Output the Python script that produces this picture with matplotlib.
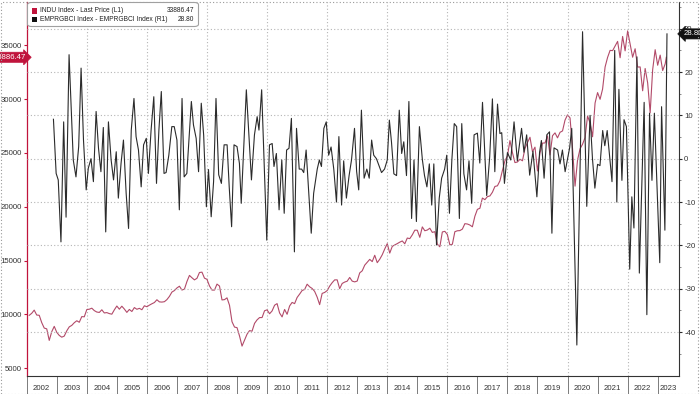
import matplotlib
matplotlib.use("Agg")
import matplotlib.pyplot as plt
import matplotlib.transforms as mtransforms
from matplotlib.patches import FancyBboxPatch, Rectangle

plt.rcParams['font.family'] = ['Liberation Sans Narrow', 'Liberation Sans', 'DejaVu Sans']

# ==================== DATA ====================

# INDU (Dow Jones) month-end closes, Jan 2002 -> Apr 2023 (last = latest price)
djia_start_year = 2002
djia = [
    9920, 10106, 10404, 9946, 9925, 9243, 8737, 8664, 7592, 8397, 8896, 8342,
    8054, 7891, 7992, 8480, 8850, 8985, 9234, 9416, 9275, 9801, 9782, 10454,
    10488, 10584, 10358, 10226, 10188, 10435, 10140, 10174, 10080, 10027, 10428, 10783,
    10490, 10766, 10504, 10193, 10467, 10275, 10641, 10482, 10569, 10440, 10806, 10718,
    10865, 10993, 11109, 11367, 11168, 11150, 11186, 11381, 11679, 12081, 12222, 12463,
    12622, 12269, 12354, 13063, 13628, 13409, 13212, 13358, 13896, 13930, 13372, 13265,
    12650, 12266, 12263, 12820, 12638, 11350, 11378, 11544, 10851, 9325, 8829, 8776,
    8001, 7063, 7609, 8168, 8500, 8447, 9172, 9496, 9712, 9713, 10345, 10428,
    10067, 10325, 10857, 11009, 10137, 9774, 10466, 10015, 10788, 11118, 11006, 11578,
    11892, 12226, 12320, 12811, 12570, 12414, 12143, 11614, 10913, 11955, 12046, 12218,
    12633, 12952, 13212, 13214, 12393, 12880, 13009, 13091, 13437, 13096, 13026, 13104,
    13861, 14054, 14579, 14840, 15116, 14910, 15500, 14810, 15130, 15546, 16086, 16577,
    15699, 16322, 16458, 16581, 16717, 16827, 16563, 17098, 17043, 17391, 17828, 17823,
    17165, 18133, 17776, 17841, 18011, 17620, 17690, 16528, 16285, 17664, 17720, 17425,
    16466, 16517, 17685, 17774, 17787, 17930, 18432, 18401, 18308, 18142, 19124, 19763,
    19864, 20812, 20663, 20941, 21009, 21350, 21891, 21948, 22405, 23377, 24272, 24719,
    26149, 25029, 24103, 24163, 24416, 24271, 25415, 25965, 26458, 25116, 25538, 23327,
    24999, 25916, 25929, 26593, 24815, 26600, 26864, 26403, 26917, 27046, 28051, 28538,
    28256, 25409, 21917, 24346, 25383, 25813, 26428, 28430, 27782, 26502, 29639, 30606,
    29983, 30932, 32982, 33875, 34529, 34503, 34935, 35361, 33844, 35820, 34484, 36338,
    35132, 33893, 34678, 32977, 32990, 30775, 32845, 31510, 28726, 32733, 34590, 33147,
    34086, 32657, 33274, 33886.47,
]

# EMPRGBCI (decimal year, value)
emp_dates = [
    2002.89, 2002.98, 2003.05, 2003.14, 2003.23, 2003.31, 2003.41, 2003.55, 2003.64, 2003.73,
    2003.81, 2003.89, 2003.98, 2004.05, 2004.14, 2004.22, 2004.31, 2004.39, 2004.47, 2004.55,
    2004.63, 2004.72, 2004.81, 2004.89, 2004.98, 2005.05, 2005.14, 2005.22, 2005.31, 2005.39,
    2005.48, 2005.57, 2005.64, 2005.72, 2005.81, 2005.89, 2005.98, 2006.05, 2006.14, 2006.23,
    2006.32, 2006.40, 2006.48, 2006.57, 2006.64, 2006.73, 2006.83, 2006.91, 2007.00, 2007.08,
    2007.17, 2007.24, 2007.33, 2007.48, 2007.55, 2007.64, 2007.72, 2007.81, 2007.89, 2007.98,
    2008.05, 2008.14, 2008.22, 2008.30, 2008.39, 2008.48, 2008.57, 2008.67, 2008.74, 2008.82,
    2008.90, 2009.00, 2009.08, 2009.14, 2009.31, 2009.48, 2009.58, 2009.67, 2009.73, 2009.82,
    2009.99, 2010.08, 2010.17, 2010.23, 2010.31, 2010.40, 2010.49, 2010.57, 2010.65, 2010.73,
    2010.81, 2010.91, 2010.98, 2011.07, 2011.15, 2011.22, 2011.30, 2011.39, 2011.47, 2011.55,
    2011.67, 2011.74, 2011.81, 2011.89, 2011.97, 2012.05, 2012.13, 2012.22, 2012.31, 2012.39,
    2012.48, 2012.55, 2012.64, 2012.73, 2012.81, 2012.91, 2012.98, 2013.05, 2013.14, 2013.23,
    2013.32, 2013.40, 2013.48, 2013.55, 2013.64, 2013.72, 2013.81, 2013.91, 2014.00, 2014.07,
    2014.14, 2014.22, 2014.31, 2014.40, 2014.48, 2014.55, 2014.64, 2014.72, 2014.81, 2014.89,
    2014.97, 2015.07, 2015.17, 2015.24, 2015.32, 2015.40, 2015.48, 2015.55, 2015.64, 2015.73,
    2015.81, 2015.91, 2015.98, 2016.07, 2016.15, 2016.23, 2016.31, 2016.40, 2016.48, 2016.55,
    2016.64, 2016.72, 2016.81, 2016.89, 2017.00, 2017.08, 2017.17, 2017.31, 2017.41, 2017.50,
    2017.58, 2017.67, 2017.75, 2017.81, 2017.90, 2018.00, 2018.11, 2018.22, 2018.33, 2018.47,
    2018.55, 2018.64, 2018.74, 2018.85, 2018.98, 2019.07, 2019.13, 2019.22, 2019.31, 2019.40,
    2019.48, 2019.55, 2019.67, 2019.75, 2019.83, 2019.92, 2020.07, 2020.14, 2020.31, 2020.50,
    2020.64, 2020.75, 2020.83, 2020.91, 2021.00, 2021.08, 2021.17, 2021.24, 2021.32, 2021.48,
    2021.57, 2021.64, 2021.71, 2021.81, 2021.88, 2021.96, 2022.07, 2022.14, 2022.21, 2022.31,
    2022.39, 2022.55, 2022.64, 2022.73, 2022.81, 2022.89, 2023.07, 2023.13, 2023.24, 2023.31,
]
emp_vals = [
    9.1, -3.4, -4.9, -19.2, 8.5, -13.5, 24.0, -0.3, -4.2, 2.8,
    20.9, 4.3, -7.2, -2.2, 0.0, -5.3, 10.9, 2.4, -3.0, 7.2,
    -16.9, 8.5, -0.3, -4.9, 1.6, -9.1, -1.1, 4.3, -8.0, -16.1,
    6.6, 13.9, 5.1, 2.0, -6.5, 3.2, 4.7, -3.4, 6.6, 14.3,
    -5.7, 6.6, 15.5, -3.4, -3.2, 0.8, 7.4, 7.4, 4.3, -11.8,
    13.9, -4.2, -3.4, 13.2, 7.8, 4.7, -3.0, 12.8, 5.4, -11.1,
    -2.5, -13.4, -5.3, 13.9, -3.7, -5.7, 3.2, 3.2, -6.5, -15.7,
    3.2, 2.8, -1.1, -10.3, 15.9, -4.9, 5.5, 9.7, 6.6, 15.9,
    -18.8, 3.2, 3.5, -1.8, 1.2, -11.8, -0.3, -12.6, 2.0, 2.4,
    9.3, -21.5, 7.0, -2.4, -2.4, -3.2, 2.0, -8.0, -17.2, -8.0,
    -2.4, -0.3, -1.8, 7.0, 8.5, 0.8, 2.7, -2.4, -10.0, 5.1,
    -10.7, -0.5, -9.1, -3.9, -0.3, 7.0, -2.9, -7.2, 11.2, -4.5,
    -2.4, -4.5, 4.3, 0.8, 0.0, -1.5, -3.2, -2.4, -0.3, 8.9,
    3.9, -3.5, -3.9, 11.2, 1.2, 3.9, -3.9, 13.2, -13.8, -0.3,
    -14.5, 7.4, -0.3, -3.9, -6.5, -1.2, -10.7, -1.2, -19.9, -9.1,
    -4.5, -2.4, 0.8, -12.6, -0.3, 8.1, 7.4, -13.8, 8.1, -3.5,
    -7.2, -0.5, -10.3, 5.5, 5.9, -1.0, 13.0, -8.5, 0.5, 13.8,
    -3.0, 12.6, 5.8, 6.0, -5.7, 1.4, -0.3, 8.5, -0.5, 7.0,
    1.5, 5.5, -3.8, 1.7, -8.8, 1.5, 4.2, -4.5, 5.5, 6.2,
    -17.2, 2.5, 2.0, -1.2, 2.0, -3.0, 2.5, 7.0, -43.0, 29.3,
    -11.0, 10.0, 0.0, -6.8, -1.3, -1.6, 6.5, 3.0, 6.5, -5.3,
    25.0, -10.0, 16.0, -5.0, 9.0, 7.4, -25.5, -8.8, -16.0, 23.5,
    -26.4, 13.0, -36.0, 10.5, -5.0, 10.5, -24.0, 12.0, -16.5, 28.8,
]

years = list(range(2002, 2024))
left_ticks = [5000, 10000, 15000, 20000, 25000, 30000, 35000]
right_ticks = [-40, -30, -20, -10, 0, 10, 20, 30]

legend_names = ["INDU Index - Last Price (L1)", "EMPRGBCI Index - EMPRGBCI Index (R1)"]
legend_values = ["33886.47", "28.80"]

RED = "#c0143c"
RED_LINE = "#b24a69"
DARK = "#2b2b2b"
GRID = "#b5b5b5"
FS = 5.6
FS_LEG = 4.8

# ==================== PLOT ====================

W, H = 700, 394
fig = plt.figure(figsize=(7, 3.94), dpi=100)
ax = fig.add_axes([26.7 / W, 1 - 376 / H, (679.3 - 26.7) / W, (376 - 2) / H])
ax2 = ax.twinx()

djia_x = [djia_start_year + (i + 1) / 12 for i in range(len(djia))]
djia_x[-1] = djia_start_year + (len(djia) - 0.55) / 12  # mid-April

ax.plot(djia_x, djia, color=RED_LINE, lw=0.8, zorder=3)
ax2.plot(emp_dates, emp_vals, color=DARK, lw=0.8, zorder=2)

ax.set_xlim(2002.0, 2023.72)
ax.set_ylim(4285, 39020)
ax2.set_ylim(-50.15, 36.16)

# left axis
ax.set_yticks(left_ticks)
ax.set_yticklabels([str(v) for v in left_ticks])
ax.tick_params(axis='y', direction='out', length=2.5, width=0.8, color=RED,
               labelsize=FS, labelcolor='#333333', pad=1)
ax.spines['left'].set_color(RED)
ax.spines['left'].set_linewidth(0.9)
ax.spines['top'].set_visible(False)
ax.spines['right'].set_visible(False)
ax.spines['bottom'].set_color('#333333')
ax.spines['bottom'].set_linewidth(0.8)

# right axis
ax2.set_yticks(right_ticks)
ax2.set_yticklabels([str(v) for v in right_ticks])
ax2.set_yticks(list(range(-45, 36, 5)), minor=True)
ax2.tick_params(axis='y', which='major', direction='out', length=2.5, width=0.8,
                color=DARK, labelsize=FS, labelcolor='#333333', pad=1)
ax2.tick_params(axis='y', which='minor', direction='out', length=1.5, width=0.6, color='#777777')
ax2.spines['right'].set_color('#333333')
ax2.spines['right'].set_linewidth(0.8)
for s in ['top', 'left', 'bottom']:
    ax2.spines[s].set_visible(False)
ax2.grid(axis='y', which='major', color=GRID, linestyle=(0, (1, 2)), lw=0.8)
ax2.set_axisbelow(True)

# x axis: year separators + centered labels
ax.set_xticks(years)
ax.set_xticklabels([])
ax.set_xticks([y + 0.5 for y in years[:-1]] + [2023.36], minor=True)
ax.set_xticklabels([str(y) for y in years], minor=True)
ax.tick_params(axis='x', which='major', direction='out', length=13, width=0.6, color='#666666')
ax.tick_params(axis='x', which='minor', length=0, labelsize=FS, labelcolor='#333333', pad=6.5)
for yr in range(2004, 2023, 2):
    ax.axvline(yr, color=GRID, linestyle=(0, (1, 2)), lw=0.8, zorder=0)

# last value tags
tr_l = mtransforms.blended_transform_factory(ax.transAxes, ax.transData)
ax.text(-0.0015, djia[-1], legend_values[0], transform=tr_l, ha='right', va='center',
        fontsize=FS, color='white', clip_on=False, zorder=10,
        bbox=dict(boxstyle='rarrow,pad=0.2', fc=RED, ec=RED, lw=0.5))
tr_r = mtransforms.blended_transform_factory(ax2.transAxes, ax2.transData)
ax2.text(1.006, emp_vals[-1], legend_values[1], transform=tr_r, ha='left', va='center',
         fontsize=FS, color='white', clip_on=False, zorder=10,
         bbox=dict(boxstyle='larrow,pad=0.2', fc='#111111', ec='#111111', lw=0.5))

# legend box (drawn by hand, Bloomberg style)
def fx(x):
    return x / W

def fy(y):
    return 1 - y / H

box = FancyBboxPatch((fx(27.5), fy(26.5)), fx(198.5) - fx(27.5), fy(2.5) - fy(26.5),
                     boxstyle="round,pad=0,rounding_size=0.006", transform=fig.transFigure,
                     fc='white', ec='#a0a0a0', lw=0.8, zorder=20)
fig.patches.append(box)
for i, (name, val, col) in enumerate(zip(legend_names, legend_values, [RED, '#111111'])):
    yy = 11 + i * 8.2
    fig.patches.append(Rectangle((fx(32), fy(yy + 2.6)), fx(5), fy(0) - fy(5.2),
                                 transform=fig.transFigure, fc=col, ec='none', zorder=21))
    fig.text(fx(40), fy(yy), name, fontsize=FS_LEG, color='#222222', va='center', ha='left', zorder=22)
    fig.text(fx(194.5), fy(yy), val, fontsize=FS_LEG, color='#222222', va='center', ha='right', zorder=22)

# dotted outer frame
fig.patches.append(Rectangle((0.0015, 0.0), 0.996, 0.995, transform=fig.transFigure,
                             fill=False, ec='#999999', lw=0.8, linestyle=(0, (1, 2))))

fig.savefig("out.png", dpi=100)
